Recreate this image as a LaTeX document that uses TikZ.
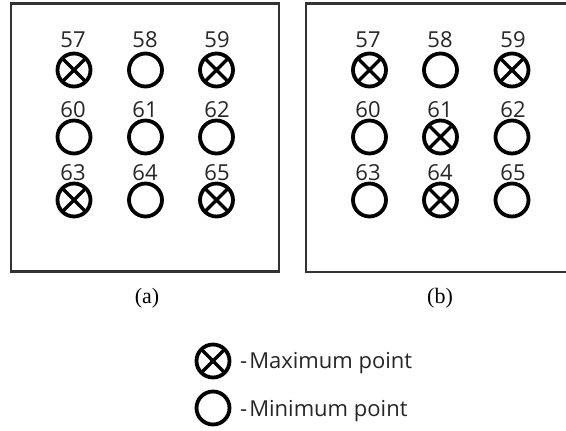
\documentclass[tikz,border=0pt]{standalone}
\usepackage{fontspec}
\setmainfont{Liberation Serif}
\newfontfamily\lblfont{Open Sans}
\begin{document}
\begin{tikzpicture}[x=1pt,y=-1pt,
  pt/.style={circle,draw=black,line width=3.8pt,minimum size=33pt,inner sep=0pt},
  maxpt/.style={pt,path picture={\draw[line width=3.4pt]
     (path picture bounding box.north west) -- (path picture bounding box.south east)
     (path picture bounding box.north east) -- (path picture bounding box.south west);}},
  num/.style={font=\lblfont\fontsize{22}{22}\selectfont,text=black!85,inner sep=0pt,anchor=base},
  frame/.style={draw=black!80,line width=2.4pt},
  captext/.style={font=\fontsize{22}{22}\selectfont,inner sep=0pt},
  leg/.style={font=\lblfont\fontsize{22}{22}\selectfont,text=black!85,inner sep=0pt,anchor=base west}]
\useasboundingbox (0,0) rectangle (566,431);
% frames
\draw[frame] (11,3.5) rectangle (279,271.5);
\draw[frame] (566,3.5) -- (306,3.5) -- (306,272) -- (566,272);
% panel (a)
\foreach \n/\x/\y/\s in {57/74/70/maxpt,58/145.5/70/pt,59/216.5/70/maxpt,
                          60/74/137/pt,61/145.5/137/pt,62/216.5/137/pt,
                          63/74/200/maxpt,64/145.5/200/pt,65/216.5/200/maxpt}{
  \node[\s] (a\n) at (\x,\y) {};
}
\foreach \n/\x/\y in {57/73/47,58/145/47,59/217/47,60/73/117,61/145/117,62/217/117,63/73/180,64/145/180,65/217/180}{
  \node[num] (la\n) at (\x,\y) {\n};
}
% panel (b)
\foreach \n/\x/\y/\s in {57/369.5/70/maxpt,58/440.5/70/pt,59/512/70/maxpt,
                          60/369.5/137/pt,61/440.5/137/maxpt,62/512/137/pt,
                          63/369.5/200/pt,64/440.5/200/maxpt,65/512/200/pt}{
  \node[\s] (b\n) at (\x,\y) {};
}
\foreach \n/\x/\y in {57/368/47,58/440/47,59/513/47,60/368/117,61/440/117,62/513/117,63/368/180,64/440/180,65/513/180}{
  \node[num] (lb\n) at (\x,\y) {\n};
}
% captions
\node[captext] (capa) at (147,298) {(a)};
\node[captext] (capb) at (440,298) {(b)};
% legend
\node[maxpt] (lmax) at (213,361) {};
\node[pt] (lmin) at (213,408) {};
\node[leg] (tmax) at (240,368) {-\kern2pt Maximum point};
\node[leg] (tmin) at (240,416) {-\kern2pt Minimum point};
\end{tikzpicture}
\end{document}
